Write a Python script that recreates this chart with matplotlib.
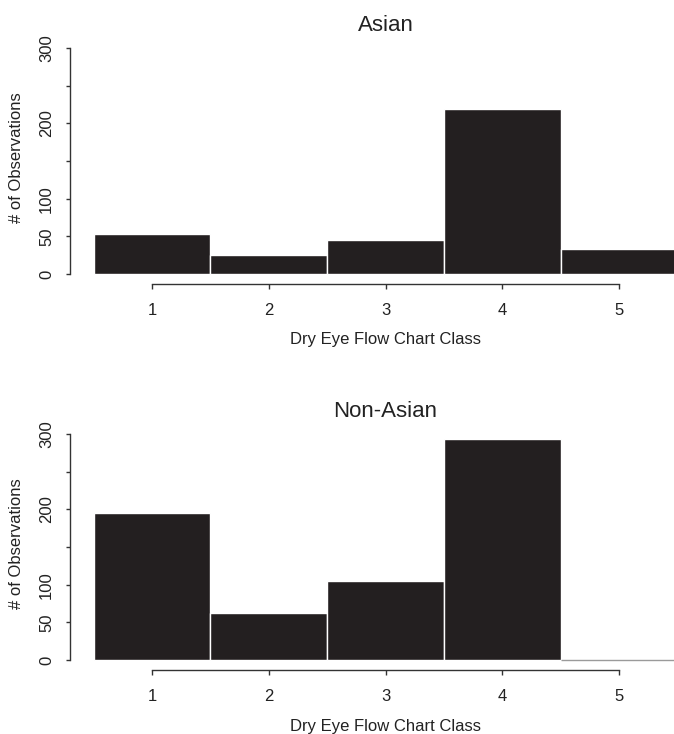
import numpy as np
import matplotlib
matplotlib.use("Agg")
import matplotlib.pyplot as plt
from matplotlib.transforms import blended_transform_factory

plt.rcParams["font.family"] = ["Liberation Sans", "DejaVu Sans"]

# Data
classes = [1, 2, 3, 4, 5]
asian_counts = [53, 25, 45, 219, 33]
non_asian_counts = [195, 63, 105, 293, 0]
panel_titles = ["Asian", "Non-Asian"]
y_ticks = [0, 50, 100, 150, 200, 250, 300]
y_tick_labels = ["0", "50", "100", "", "200", "", "300"]
x_label = "Dry Eye Flow Chart Class"
y_label = "# of Observations"

bar_color = "#231f20"
text_color = "#222222"
axis_color = "#333333"

W, H = 674, 734
fig = plt.figure(figsize=(W / 100, H / 100), dpi=100)

# axes rectangles in pixels: (left, bottom-of-axis-line, top-at-300)
panels = [(70, 284, 48), (70, 670, 434)]
xlim = (0.2976, 5.471)
ylim = (-13.3, 300)


def draw_panel(rect, counts, title):
    left, bottom, top = rect
    ax = fig.add_axes([left / W, 1 - bottom / H, (W - left) / W, (bottom - top) / H])
    edges = ["white" if c > 0 else "#9a9a9a" for c in counts]
    ax.bar(classes, counts, width=1.0, color=bar_color, edgecolor=edges,
           linewidth=1.0, zorder=2)
    ax.set_xlim(*xlim)
    ax.set_ylim(*ylim)

    for s in ["top", "right"]:
        ax.spines[s].set_visible(False)
    ax.spines["left"].set_bounds(0, 300)
    ax.spines["bottom"].set_bounds(classes[0], classes[-1])
    ax.spines["left"].set_color(axis_color)
    ax.spines["bottom"].set_color(axis_color)
    ax.spines["left"].set_linewidth(1.0)
    ax.spines["bottom"].set_linewidth(1.0)

    ax.set_xticks(classes)
    ax.set_xticklabels([str(c) for c in classes])
    ax.set_yticks(y_ticks)
    ax.set_yticklabels(y_tick_labels, rotation=90, va="center")
    ax.tick_params(axis="x", length=3.6, width=1.0, color=axis_color, pad=10,
                   labelsize=12, labelcolor=text_color)
    ax.tick_params(axis="y", length=3.0, width=1.0, color=axis_color, pad=8.5,
                   labelsize=12, labelcolor=text_color)

    trans = blended_transform_factory(ax.transData, ax.transAxes)
    ax.annotate(title, xy=(3, 1), xycoords=trans, xytext=(0, 17),
                textcoords="offset pixels", ha="center", va="baseline",
                fontsize=16, color=text_color)
    ax.annotate(x_label, xy=(3, 0), xycoords=trans, xytext=(0, -56),
                textcoords="offset pixels", ha="center", va="center",
                fontsize=12, color=text_color)
    ytrans = blended_transform_factory(ax.transAxes, ax.transData)
    ax.annotate(y_label, xy=(0, 155), xycoords=ytrans, xytext=(-53, 0),
                textcoords="offset pixels", ha="center", va="center",
                rotation=90, fontsize=12, color=text_color)
    return ax


draw_panel(panels[0], asian_counts, panel_titles[0])
draw_panel(panels[1], non_asian_counts, panel_titles[1])

fig.savefig("out.png", dpi=100)
